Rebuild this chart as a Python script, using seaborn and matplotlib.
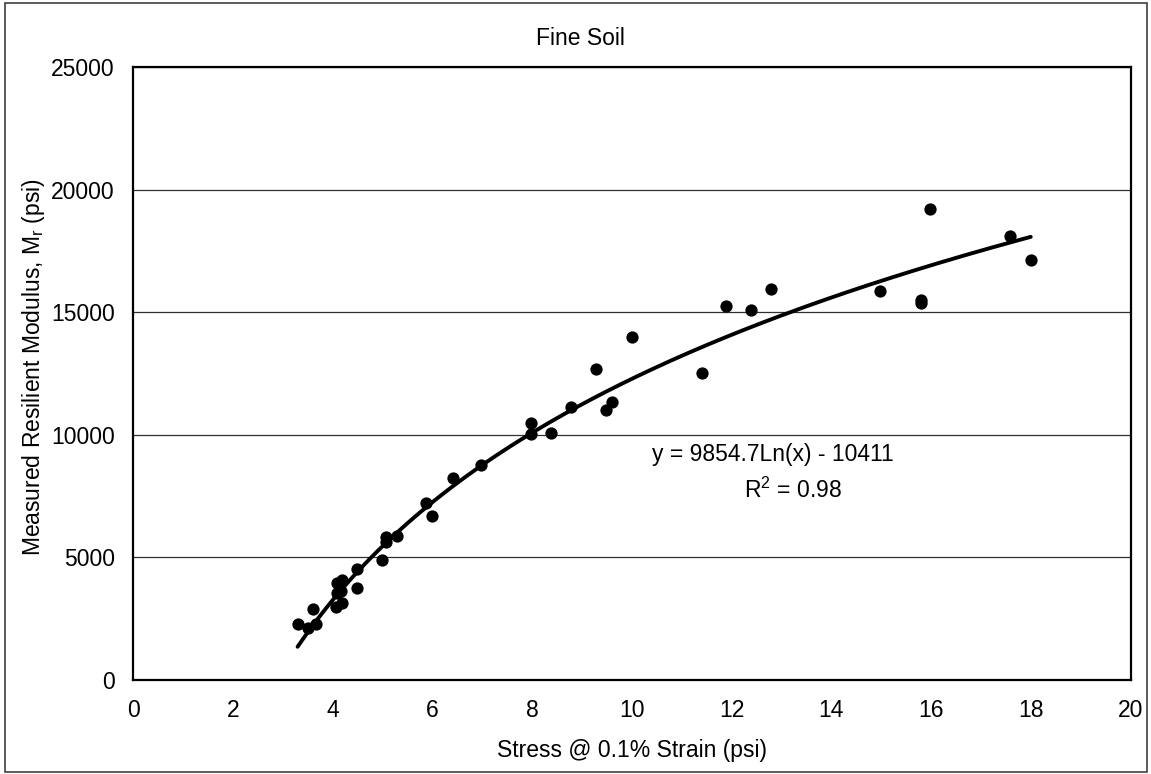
import numpy as np
import pandas as pd
import matplotlib
matplotlib.use("Agg")
import matplotlib.pyplot as plt
from matplotlib.patches import Rectangle
import seaborn as sns

# Measured data: stress at 0.1% strain (psi) vs. resilient modulus (psi)
stress = [3.30, 3.50, 3.67, 3.60, 4.07, 4.20, 4.10, 4.18, 4.10, 4.20,
          4.49, 4.49, 5.00, 5.08, 5.08, 5.29, 5.88, 5.99, 6.41, 6.98,
          7.98, 7.98, 8.39, 8.79, 9.28, 9.49, 9.60, 10.00, 11.41, 11.89,
          12.40, 12.80, 14.98, 15.79, 15.79, 15.97, 17.59, 18.00]
modulus = [2280, 2110, 2280, 2880, 2990, 3130, 3560, 3640, 3940, 4080,
           3760, 4510, 4890, 5640, 5820, 5870, 7200, 6690, 8250, 8770,
           10490, 10030, 10060, 11120, 12670, 11010, 11330, 14000, 12530, 15260,
           15110, 15950, 15880, 15500, 15380, 19210, 18110, 17130]

# Logarithmic trendline y = a*ln(x) + b
trend_a = 9854.7
trend_b = -10411
trend_r2 = 0.98

x_ticks = [0, 2, 4, 6, 8, 10, 12, 14, 16, 18, 20]
y_ticks = [0, 5000, 10000, 15000, 20000, 25000]

sns.set_theme(style="white")
plt.rcParams["font.family"] = ["Liberation Sans", "DejaVu Sans"]
plt.rcParams["mathtext.fontset"] = "custom"
plt.rcParams["mathtext.rm"] = "Liberation Sans"
plt.rcParams["mathtext.it"] = "Liberation Sans"

FS = 16.5

fig = plt.figure(figsize=(11.51, 7.74), dpi=100)
ax = fig.add_axes([133 / 1151, 94 / 774, 997.5 / 1151, 613 / 774])

df = pd.DataFrame({"stress": stress, "modulus": modulus})

# trendline over the measured stress range
xs = np.linspace(min(stress), max(stress), 200)
trend = pd.DataFrame({"x": xs, "y": trend_a * np.log(xs) + trend_b})
sns.lineplot(data=trend, x="x", y="y", ax=ax, color="black", lw=2.8, zorder=3)

sns.scatterplot(data=df, x="stress", y="modulus", ax=ax, color="black",
                s=78, edgecolor="black", linewidth=0, zorder=4)

ax.set_xlim(0, 20)
ax.set_ylim(0, 25000)
ax.set_xticks(x_ticks)
ax.set_yticks(y_ticks)
ax.set_xticklabels([str(v) for v in x_ticks], fontsize=FS)
ax.set_yticklabels([str(v) for v in y_ticks], fontsize=FS)

ax.yaxis.grid(True, color="#303030", lw=0.9)
ax.xaxis.grid(False)
ax.set_axisbelow(True)

for side in ["left", "bottom", "top", "right"]:
    ax.spines[side].set_visible(True)
    ax.spines[side].set_color("black")
    ax.spines[side].set_linewidth(1.6)

ax.tick_params(axis="both", which="major", direction="out", length=5,
               width=1, color="#808080", labelcolor="black")
ax.tick_params(axis="y", pad=8)
ax.tick_params(axis="x", pad=9)

ax.set_xlabel("Stress @ 0.1% Strain (psi)", fontsize=FS, color="black", va="center")
ax.xaxis.set_label_coords(0.5, (680 - 751) / 613)
ax.set_ylabel("Measured Resilient Modulus, M$_{\\mathrm{r}}$ (psi)", fontsize=FS,
              color="black", va="center")
ax.yaxis.set_label_coords((34 - 133) / 997.5, 0.51)

# trendline equation and fit statistic
ax.text(12.82, 9180, f"y = {trend_a}Ln(x) - {abs(trend_b)}", fontsize=FS,
        ha="center", va="center", color="black")
ax.text(13.24, 7750, f"R$^{{2}}$ = {trend_r2}", fontsize=FS,
        ha="center", va="center", color="black")

fig.text(580 / 1151, 1 - 38.5 / 774, "Fine Soil", fontsize=FS,
         ha="center", va="center", color="black")

# chart frame
fig.patches.append(Rectangle((5 / 1151, 2 / 774), 1142 / 1151, 769 / 774,
                             transform=fig.transFigure, fill=False,
                             edgecolor="#404040", lw=1.2))

fig.savefig("out.png", dpi=100, facecolor="white")
